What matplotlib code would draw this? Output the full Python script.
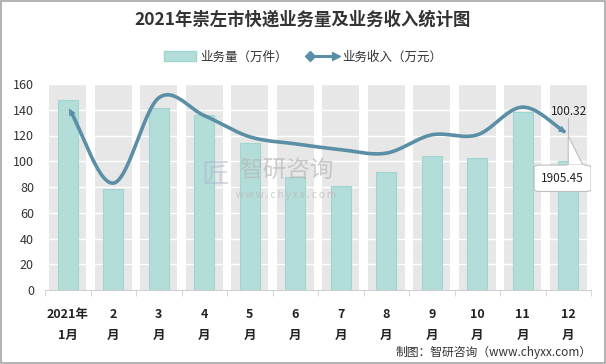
import numpy as np
import matplotlib.pyplot as plt
from matplotlib.lines import Line2D
from matplotlib.patches import Patch, FancyBboxPatch, Polygon, Rectangle
from matplotlib.legend_handler import HandlerBase

plt.rcParams['font.family'] = ['Noto Sans CJK SC', 'DejaVu Sans']

months = ['2021年\n1月', '2\n月', '3\n月', '4\n月', '5\n月', '6\n月',
          '7\n月', '8\n月', '9\n月', '10\n月', '11\n月', '12\n月']
volume = [147.5, 78.3, 141.3, 135.8, 113.8, 87.6, 80.9, 92.0, 103.7, 102.4, 138.4, 100.32]
revenue = [2252, 1307, 2350, 2134, 1874, 1788, 1717, 1674, 1898, 1898, 2237, 1905.45]

bar_color = '#b2ddd9'
line_color = '#5b8fa6'


def smooth(xs, ys, n=30):
    # catmull-rom curve through the points, like excel's smoothed line
    xs = np.asarray(xs, float)
    ys = np.asarray(ys, float)
    px = np.concatenate([[2 * xs[0] - xs[1]], xs, [2 * xs[-1] - xs[-2]]])
    py = np.concatenate([[2 * ys[0] - ys[1]], ys, [2 * ys[-1] - ys[-2]]])
    ox, oy = [], []
    t = np.linspace(0, 1, n)
    for i in range(1, len(px) - 2):
        for p, o in ((px, ox), (py, oy)):
            p0, p1, p2, p3 = p[i - 1], p[i], p[i + 1], p[i + 2]
            o.extend(0.5 * (2 * p1 + (-p0 + p2) * t + (2 * p0 - 5 * p1 + 4 * p2 - p3) * t ** 2
                            + (-p0 + 3 * p1 - 3 * p2 + p3) * t ** 3))
    return np.array(ox), np.array(oy)


class ArrowHandler(HandlerBase):
    def create_artists(self, legend, orig, xd, yd, w, h, fs, trans):
        y = h / 2 - yd
        ln = Line2D([-xd + 3, -xd + w - 3], [y, y], color=line_color, lw=2.2, transform=trans)
        m1 = Line2D([-xd + 3], [y], marker='D', ms=5, color=line_color, transform=trans)
        m2 = Line2D([-xd + w - 2], [y], marker='>', ms=6, color=line_color, transform=trans)
        return [ln, m1, m2]


fig = plt.figure(figsize=(6.06, 3.64), dpi=100)
fig.patches.append(Rectangle((0.001, 0.002), 0.997, 0.995, transform=fig.transFigure,
                             fill=False, edgecolor='#a6a6a6', lw=1.2))
ax = fig.add_axes([45 / 606, 1 - 290 / 364, 546 / 606, 206 / 364])

x = np.arange(len(months))
ax.bar(x, [160] * len(x), width=0.81, color='#e7e7e7', zorder=0)
ax.bar(x, volume, width=0.45, color=bar_color, edgecolor='#9fd6d0', lw=0.8, zorder=2)
for v in range(20, 161, 20):
    ax.axhline(v, color='white', lw=1, zorder=1)

ax.set_xlim(-0.5, len(x) - 0.5)
ax.set_ylim(0, 160)
ax.set_yticks(range(0, 161, 20))
ax.set_xticks(x)
ax.set_xticklabels(months, fontsize=9, fontweight='bold', linespacing=1.75, color='#222222')
ax.set_xticks(np.arange(-0.5, len(x), 1), minor=True)
ax.tick_params(axis='x', which='major', length=0, pad=13)
ax.tick_params(axis='x', which='minor', length=4, color='#d0d0d0')
ax.tick_params(axis='y', length=0, labelsize=9, colors='#333333', pad=8)
for s in ['top', 'right', 'left']:
    ax.spines[s].set_visible(False)
ax.spines['bottom'].set_color('#d0d0d0')

ax2 = ax.twinx()
ax2.set_ylim(0, 2520)
ax2.axis('off')
sx, sy = smooth(x, revenue)
ax2.plot(sx[2:-2], sy[2:-2], color=line_color, lw=2.6, zorder=3, solid_capstyle='butt')
ax2.annotate('', xy=(sx[0], sy[0]), xytext=(sx[4], sy[4]),
             arrowprops=dict(arrowstyle='-|>', color=line_color, lw=0, mutation_scale=13))
ax2.annotate('', xy=(sx[-1], sy[-1]), xytext=(sx[-5], sy[-5]),
             arrowprops=dict(arrowstyle='-|>', color=line_color, lw=0, mutation_scale=13))

# callouts for december
ax.text(11.02, 138.4, '100.32', ha='center', va='center', fontsize=8.5, color='#222222', zorder=6)
ax.plot([11.0, 11.0], [133.5, 119.5], color='#bfbfbf', lw=0.8, zorder=5)
ax.add_patch(Polygon([(11.0, 96.5), (11.0, 119.5), (11.33, 96.5)], closed=True,
                     facecolor='white', edgecolor='#bfbfbf', lw=0.8, zorder=5))
ax.add_patch(FancyBboxPatch((10.25, 76.5), 1.25, 20.5, boxstyle='round,pad=0,rounding_size=0.12',
                            mutation_aspect=16, facecolor='white', edgecolor='#bfbfbf', lw=0.8, zorder=5))
ax.add_patch(Rectangle((10.98, 95.5), 0.37, 1.6, facecolor='white', edgecolor='none', zorder=6))
ax.text(10.87, 86.7, '1905.45', ha='center', va='center', fontsize=8.5, color='#222222', zorder=7)

# watermark
fig.text(0.395, 0.53, '智研咨询', fontsize=17, color='#b8b8b8', alpha=0.7, ha='left', va='center')
fig.text(0.39, 0.465, 'w w w . c h y x x . c o m', fontsize=7, color='#b8b8b8', alpha=0.7,
         ha='left', va='center')
fig.text(0.355, 0.52, '匠', fontsize=20, color='#aab6cc', alpha=0.5, ha='center', va='center')

fig.text(0.5, 1 - 20 / 364, '2021年崇左市快递业务量及业务收入统计图', ha='center', va='center',
         fontsize=12.5, fontweight='bold', color='#333333')

handles = [Patch(facecolor=bar_color, edgecolor='#9fd6d0'), Line2D([], [], color=line_color)]
fig.legend(handles, ['业务量（万件）', '业务收入（万元）'], loc='center',
           bbox_to_anchor=(0.5, 1 - 57 / 364), ncol=2, frameon=False, fontsize=9,
           handler_map={Line2D: ArrowHandler()}, handlelength=2.6, handleheight=0.9,
           columnspacing=1.5, handletextpad=0.3, labelcolor='#333333')

fig.text(592 / 606, 1 - 352 / 364, '制图：智研咨询（www.chyxx.com）', ha='right', va='center',
         fontsize=8.5, color='#333333')

fig.savefig('out.png', dpi=100)
